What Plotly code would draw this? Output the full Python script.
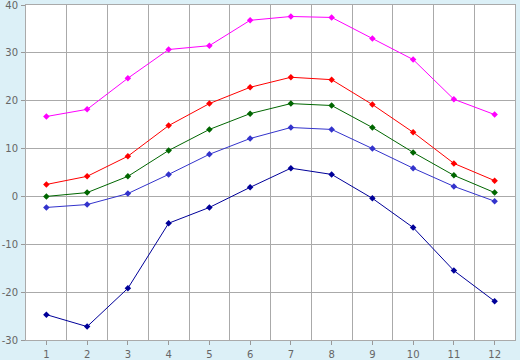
import plotly.graph_objects as go

months = [1, 2, 3, 4, 5, 6, 7, 8, 9, 10, 11, 12]
record_high = [16.7, 18.2, 24.7, 30.7, 31.5, 36.8, 37.6, 37.4, 33.0, 28.6, 20.3, 17.1]
mean_high = [2.5, 4.2, 8.4, 14.8, 19.4, 22.8, 24.9, 24.4, 19.2, 13.4, 6.9, 3.3]
mean_daily = [0.0, 0.8, 4.2, 9.6, 14.0, 17.3, 19.4, 19.0, 14.4, 9.2, 4.4, 0.8]
mean_low = [-2.3, -1.7, 0.6, 4.6, 8.8, 12.1, 14.4, 14.0, 10.0, 5.9, 2.1, -1.0]
record_low = [-24.7, -27.2, -19.2, -5.6, -2.3, 1.9, 5.9, 4.6, -0.4, -6.5, -15.5, -21.9]
y_ticks = [-30, -20, -10, 0, 10, 20, 30, 40]
y_tick_labels = ["-30", "-20", "-10", "0", "10", "20", "30", "40"]

series = [
    (record_high, "#ff00ff"),
    (mean_high, "#ff0000"),
    (mean_daily, "#006600"),
    (mean_low, "#3333cc"),
    (record_low, "#000099"),
]

fig = go.Figure()
for vals, col in series:
    fig.add_trace(go.Scatter(
        x=months, y=vals, mode="lines+markers",
        line=dict(color=col, width=1),
        marker=dict(symbol="diamond", size=5, color=col),
        showlegend=False,
    ))

axis_font = dict(family="DejaVu Sans", size=10, color="#666666")
fig.update_layout(
    width=520, height=360,
    margin=dict(l=26, r=5, t=5, b=20),
    paper_bgcolor="#dcf0f7",
    plot_bgcolor="#ffffff",
    showlegend=False,
)
fig.update_xaxes(
    range=[0.5, 12.5], tickvals=months, ticktext=[str(m) for m in months],
    showgrid=False, zeroline=False, automargin=False,
    ticks="outside", ticklen=4, tickcolor="#999999",
    showline=True, linecolor="#aaaaaa", linewidth=1, mirror=True,
    tickfont=axis_font, ticklabeloverflow="allow", ticklabelstandoff=1,
    minor=dict(tickvals=[m + 0.5 for m in months[:-1]], showgrid=True,
               gridcolor="#aaaaaa", gridwidth=1, ticklen=0),
)
fig.update_yaxes(
    range=[-30, 40], tickvals=y_ticks, ticktext=y_tick_labels,
    showgrid=True, gridcolor="#aaaaaa", gridwidth=1, zeroline=False,
    automargin=False,
    showline=True, linecolor="#aaaaaa", linewidth=1, mirror=True,
    tickfont=axis_font, ticks="outside", ticklen=4, tickcolor="#999999",
    ticklabelstandoff=1, ticklabeloverflow="allow",
)
fig.write_html("out.html")
